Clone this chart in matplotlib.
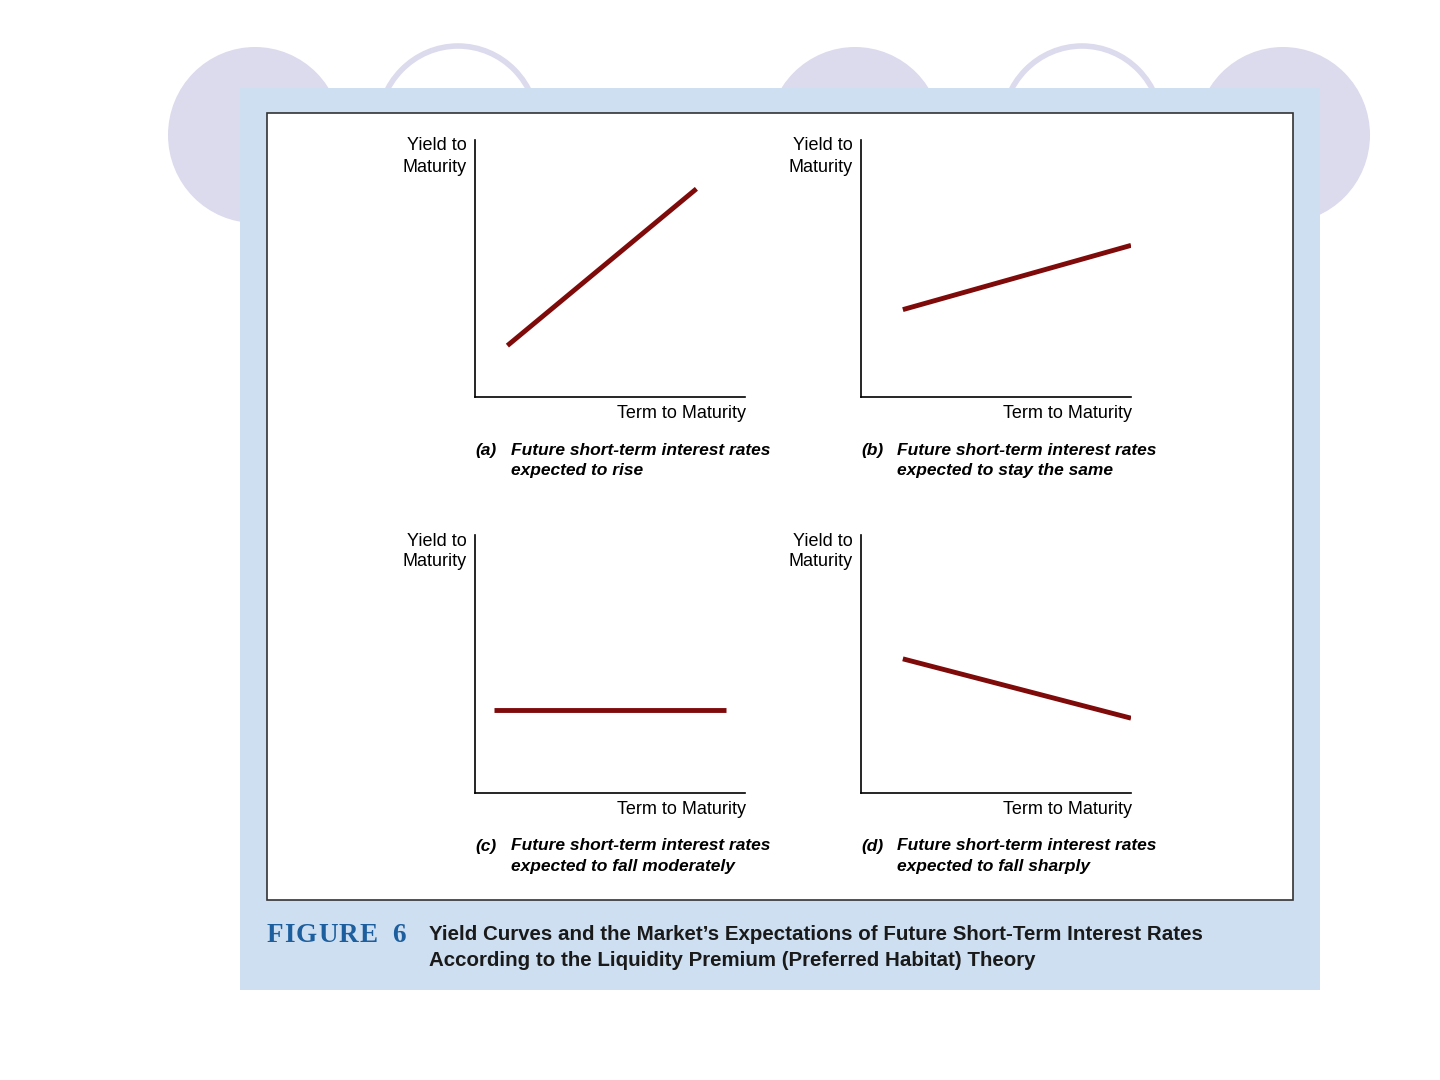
import matplotlib.pyplot as plt
from matplotlib.patches import Rectangle, Ellipse

# yield curve end points in panel units (x: term 0..10, y: yield 0..10)
panel_ids = ['a', 'b', 'c', 'd']
term_start = [1.2, 1.55, 0.7, 1.55]
term_end = [8.2, 10.0, 9.3, 10.0]
yield_start = [2.0, 3.4, 3.2, 5.2]
yield_end = [8.1, 5.9, 3.2, 2.9]
captions = [
    'Future short-term interest rates\nexpected to rise',
    'Future short-term interest rates\nexpected to stay the same',
    'Future short-term interest rates\nexpected to fall moderately',
    'Future short-term interest rates\nexpected to fall sharply',
]

W, H = 1440, 1080
fig = plt.figure(figsize=(14.4, 10.8), dpi=100)
fig.patch.set_facecolor('white')


def fx(x):
    return x / W


def fy(y):
    return 1 - y / H


# decorative circles behind the panel
bg = fig.add_axes([0, 0, 1, 1])
bg.set_xlim(0, W)
bg.set_ylim(H, 0)
bg.axis('off')
lav = '#dcdaed'
for cx, filled in [(255, True), (458, False), (855, True), (1082, False), (1283, True)]:
    if filled:
        bg.add_patch(Ellipse((cx, 135), 174, 176, facecolor=lav, edgecolor='none'))
    else:
        bg.add_patch(Ellipse((cx, 128), 160, 164, facecolor='white', edgecolor=lav, lw=4))

# blue panel and white box
bg.add_patch(Rectangle((240, 88), 1080, 902, facecolor='#cddff1', edgecolor='none'))
bg.add_patch(Rectangle((267, 113), 1026, 787, facecolor='white', edgecolor='#333333', lw=1.2))

font = ['Liberation Sans', 'DejaVu Sans']
ax_pos = [(475, 140, 270, 257), (861, 140, 270, 257), (475, 535, 270, 258), (861, 535, 270, 258)]

for i, pid in enumerate(panel_ids):
    x0, y0, w, h = ax_pos[i]
    ax = fig.add_axes([fx(x0), fy(y0 + h), w / W, h / H])
    ax.set_xlim(0, 10)
    ax.set_ylim(0, 10)
    ax.patch.set_alpha(0)
    for s in ['top', 'right']:
        ax.spines[s].set_visible(False)
    for s in ['left', 'bottom']:
        ax.spines[s].set_linewidth(1.2)
        ax.spines[s].set_color('black')
    ax.set_xticks([])
    ax.set_yticks([])
    ax.plot([term_start[i], term_end[i]], [yield_start[i], yield_end[i]],
            color='#7f0a0a', lw=3.5, solid_capstyle='butt')
    fig.text(fx(x0 - 8), fy(y0 + 6), 'Yield to', ha='right', va='center',
             fontsize=13, family=font)
    fig.text(fx(x0 - 8), fy(y0 + 27), 'Maturity', ha='right', va='center',
             fontsize=13, family=font)
    fig.text(fx(x0 + w + 1), fy(y0 + h + 17), 'Term to Maturity', ha='right', va='center',
             fontsize=13, family=font)
    fig.text(fx(x0), fy(y0 + h + 53), '(%s)' % pid, ha='left', va='center',
             fontsize=12.5, family=font, style='italic', fontweight='bold')
    fig.text(fx(x0 + 36), fy(y0 + h + 53), captions[i].split('\n')[0], ha='left', va='center',
             fontsize=12.5, family=font, style='italic', fontweight='bold')
    fig.text(fx(x0 + 36), fy(y0 + h + 74), captions[i].split('\n')[1], ha='left', va='center',
             fontsize=12.5, family=font, style='italic', fontweight='bold')

# "FIGURE 6" label, letters placed one by one for the wide tracking
serif = ['Liberation Serif', 'DejaVu Serif']
renderer = fig.canvas.get_renderer()
xpos = 267
for ch in 'FIGURE':
    t = fig.text(fx(xpos), fy(936), ch, ha='left', va='center', fontsize=19.5,
                 family=serif, color='#1d5e9e', fontweight='bold')
    xpos += t.get_window_extent(renderer).width + 1
fig.text(fx(392), fy(936), '6', ha='left', va='center', fontsize=19.5,
         family=serif, color='#1d5e9e', fontweight='bold')

title_font = ['Liberation Sans Narrow', 'Liberation Sans', 'DejaVu Sans']
fig.text(fx(429), fy(935), "Yield Curves and the Market\u2019s Expectations of Future Short-Term Interest Rates",
         ha='left', va='center', fontsize=14.8, fontweight='bold', family=title_font, color='#1a1a1a')
fig.text(fx(429), fy(960), "According to the Liquidity Premium (Preferred Habitat) Theory",
         ha='left', va='center', fontsize=14.8, fontweight='bold', family=title_font, color='#1a1a1a')

fig.savefig('out.png', dpi=100)
